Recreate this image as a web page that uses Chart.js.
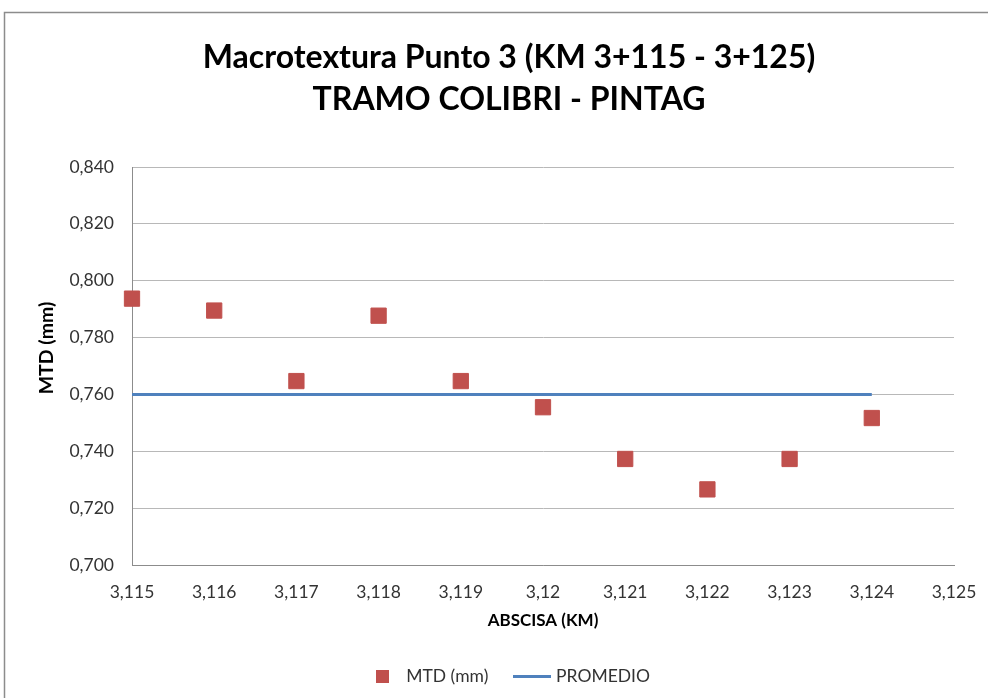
<!DOCTYPE html>
<html>
<head>
<meta charset="utf-8">
<script src="https://cdn.jsdelivr.net/npm/chart.js@4/dist/chart.umd.min.js"></script>
<style>
  html, body { margin: 0; padding: 0; background: #fff; }
  #wrap { width: 988px; height: 698px; }
</style>
</head>
<body>
<div id="wrap"><canvas id="c" width="988" height="698"></canvas></div>
<script>
// ---- data ----
const titleLines = ['Macrotextura Punto 3 (KM 3+115 - 3+125)', 'TRAMO COLIBRI - PINTAG'];
const abscisa = [3.115, 3.116, 3.117, 3.118, 3.119, 3.120, 3.121, 3.122, 3.123, 3.124];
const mtd = [0.7937, 0.7895, 0.7647, 0.7877, 0.7647, 0.7555, 0.7373, 0.7266, 0.7373, 0.7517];
const promedioX = [3.115, 3.124];
const promedioY = [0.760, 0.760];
const seriesNames = ['MTD (mm)', 'PROMEDIO'];
const xTitle = 'ABSCISA (KM)';
const yTitle = 'MTD (mm)';
const xMin = 3.115, xMax = 3.125, xStep = 0.001;
const yMin = 0.700, yMax = 0.840, yStep = 0.020;

const RED = '#C0504D';
const BLUE = '#4F81BD';
const FONT = 'Lato, "Open Sans", sans-serif';

function makeIcon(w, h, color) {
  const c = document.createElement('canvas');
  c.width = w; c.height = h;
  const g = c.getContext('2d');
  g.fillStyle = color;
  g.fillRect(0, 0, w, h);
  return c;
}
const squareIcon = makeIcon(13, 13, RED);
const lineIcon = makeIcon(38, 3, BLUE);

const framePlugin = {
  id: 'frame',
  beforeDraw(chart) {
    const ctx = chart.ctx;
    ctx.save();
    ctx.fillStyle = '#fff';
    ctx.fillRect(0, 0, chart.width, chart.height);
    ctx.strokeStyle = '#8c8c8c';
    ctx.lineWidth = 1.5;
    ctx.strokeRect(4.5, 12.5, chart.width + 10, chart.height + 10);
    ctx.restore();
  },
  afterLayout(chart) {
    if (chart.titleBlock) { chart.titleBlock.left = 30; chart.titleBlock.right = 988; }
    if (chart.legend) { chart.legend.left = 338.5; chart.legend.right = 988; }
  },
  afterDraw(chart) {
    // y-axis title, placed where the reference has it
    const ctx = chart.ctx;
    ctx.save();
    ctx.translate(47, 348);
    ctx.rotate(-Math.PI / 2);
    ctx.fillStyle = '#000';
    ctx.font = 'bold 19.5px ' + FONT;
    ctx.textAlign = 'center';
    ctx.textBaseline = 'middle';
    ctx.fillText(yTitle, 0, 0);
    ctx.restore();
  }
};

const chart = new Chart(document.getElementById('c'), {
  type: 'scatter',
  data: {
    datasets: [
      {
        label: seriesNames[0],
        data: abscisa.map((x, i) => ({ x: x, y: mtd[i] })),
        pointStyle: 'rect',
        pointRadius: 10.8,
        pointHoverRadius: 10.8,
        backgroundColor: RED,
        borderColor: RED,
        borderWidth: 1,
        showLine: false,
        clip: false,
        order: 1
      },
      {
        label: seriesNames[1],
        data: promedioX.map((x, i) => ({ x: x, y: promedioY[i] })),
        showLine: true,
        borderColor: BLUE,
        backgroundColor: BLUE,
        borderWidth: 3,
        pointRadius: 0,
        pointHoverRadius: 0,
        clip: false,
        order: 2
      }
    ]
  },
  options: {
    responsive: false,
    animation: false,
    events: [],
    layout: { padding: { left: 0, right: 34, top: 0, bottom: 3.25 } },
    plugins: {
      tooltip: { enabled: false },
      title: {
        display: true,
        text: titleLines,
        color: '#000',
        font: { family: FONT, size: 32, weight: 'bold', lineHeight: 1.3125 },
        padding: { top: 37, bottom: 46 }
      },
      legend: {
        display: true,
        position: 'bottom',
        align: 'start',
        labels: {
          usePointStyle: true,
          pointStyleWidth: 30,
          padding: 29,
          color: '#333',
          font: { family: FONT, size: 17.5 },
          generateLabels(chart) {
            const items = Chart.defaults.plugins.legend.labels.generateLabels(chart);
            items.forEach((it, i) => { it.pointStyle = i === 0 ? squareIcon : lineIcon; });
            return items;
          }
        }
      }
    },
    scales: {
      x: {
        type: 'linear',
        min: xMin, max: xMax,
        grid: { display: false, drawTicks: false },
        border: { display: true, color: '#8c8c8c', width: 1 },
        ticks: {
          stepSize: xStep,
          padding: 17,
          color: '#333',
          font: { family: FONT, size: 17.5 },
          maxRotation: 0,
          autoSkip: false,
          callback: v => (Math.round(v * 1000) / 1000).toString().replace('.', ',')
        },
        title: {
          display: true,
          text: xTitle,
          color: '#000',
          font: { family: FONT, size: 17, weight: 'bold' },
          padding: { top: 0, bottom: 7.6 }
        },
        afterFit(scale) { scale.height = 73.25; scale.paddingLeft = 0; scale.paddingRight = 0; }
      },
      y: {
        type: 'linear',
        min: yMin, max: yMax,
        grid: { display: true, drawTicks: false, color: '#b8b8b8', lineWidth: 1 },
        border: { display: true, color: '#8c8c8c', width: 1 },
        ticks: {
          stepSize: yStep,
          padding: 18,
          color: '#333',
          font: { family: FONT, size: 17.5 },
          callback: v => v.toFixed(3).replace('.', ',')
        },
        title: { display: false, text: yTitle },
        afterFit(scale) { scale.width = 132; }
      }
    }
  },
  plugins: [framePlugin]
});
</script>
</body>
</html>
